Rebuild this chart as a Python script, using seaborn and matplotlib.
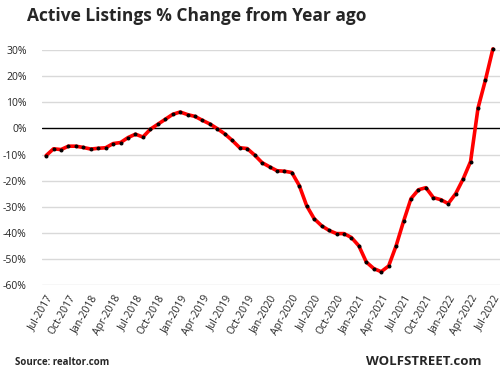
import numpy as np
import pandas as pd
import seaborn as sns
import matplotlib.pyplot as plt

# monthly, Jul-2017 .. Jul-2022
months = pd.date_range('2017-07-01', '2022-07-01', freq='MS')
pct_change = [-10.4, -7.8, -8.1, -6.8, -6.8, -7.3, -7.9, -7.6, -7.4, -5.8,
              -5.4, -3.5, -2.2, -3.3, -0.3, 1.6, 3.5, 5.4, 6.3, 5.3,
              4.6, 3.1, 1.7, -0.1, -2.1, -4.6, -7.4, -7.7, -10.2, -13.1,
              -14.7, -16.2, -16.4, -16.9, -21.9, -29.7, -34.6, -37.3, -39.1, -40.3,
              -40.3, -41.8, -45.0, -51.2, -53.7, -54.9, -52.7, -45.0, -35.6, -26.9,
              -23.5, -22.7, -26.5, -27.3, -28.8, -25.0, -19.4, -12.7, 7.8, 18.6,
              30.5]
y_ticks = [30, 20, 10, 0, -10, -20, -30, -40, -50, -60]

df = pd.DataFrame({'month': np.arange(len(months)), 'pct': pct_change})
tick_pos = np.arange(0, len(months), 3)
tick_labels = [months[i].strftime('%b-%Y') for i in tick_pos]

sns.set_style('white')
plt.rcParams['font.family'] = ['Open Sans', 'DejaVu Sans']

fig = plt.figure(figsize=(5.03, 3.80), dpi=100)
ax = fig.add_axes([0.0835, 0.25, 0.9105, 0.618])

for t in y_ticks:
    if t != 0:
        ax.axhline(t, color='#d9d9d9', lw=1, zorder=0)
ax.axhline(0, color='black', lw=1, zorder=1)

sns.lineplot(data=df, x='month', y='pct', ax=ax, color='#ff0000', lw=2.6,
             marker='o', markersize=2.1, markerfacecolor='black',
             markeredgecolor='black', clip_on=False, zorder=3)

ax.set_xlim(-0.55, 60.95)
ax.set_ylim(-60, 30)
ax.set_yticks(y_ticks)
ax.set_yticklabels([f'{t}%' for t in y_ticks], fontsize=7.5)
ax.set_xticks(tick_pos)
ax.set_xticklabels(tick_labels, rotation=60, ha='right', rotation_mode='anchor',
                   fontsize=7.5)
ax.tick_params(axis='y', length=0, pad=11)
ax.tick_params(axis='x', length=0, pad=6)
ax.set_xlabel('')
ax.set_ylabel('')
sns.despine(ax=ax, left=True, bottom=True)

fig.text(0.054, 0.945, 'Active Listings % Change from Year ago', fontsize=12.5,
         fontweight='bold', va='baseline', ha='left')
fig.text(0.03, 0.04, 'Source: realtor.com', fontsize=7, fontweight='bold',
         va='baseline', ha='left')
fig.text(0.958, 0.04, 'WOLFSTREET.com', fontsize=9.5, fontweight='bold',
         va='baseline', ha='right')

fig.savefig('out.png', dpi=100)
